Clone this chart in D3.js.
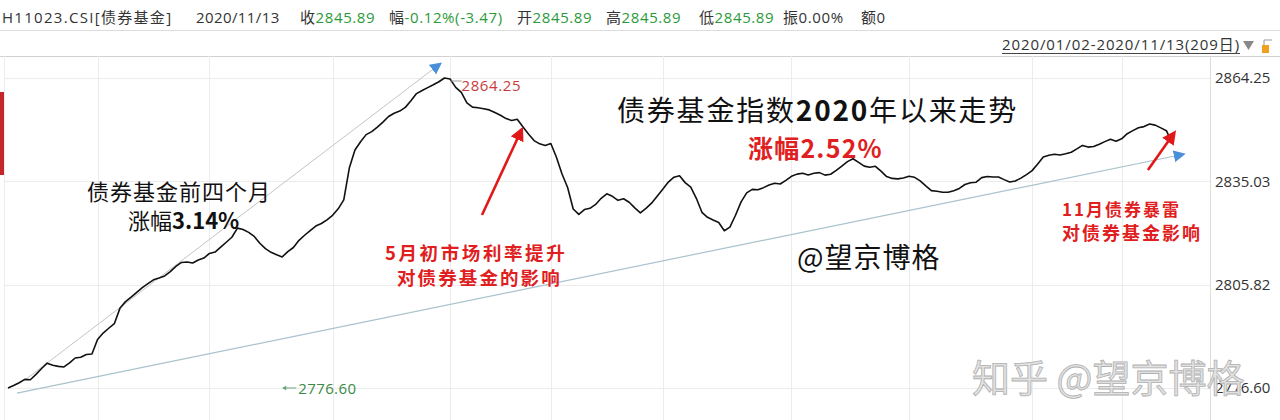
<!DOCTYPE html>
<html><head><meta charset="utf-8">
<script src="https://cdn.jsdelivr.net/npm/d3@7"></script>
<style>
html,body{margin:0;padding:0;background:#fff;}
svg{display:block;}
</style></head><body>
<svg id="chart" width="1280" height="420"></svg>
<script>
// ---- data (trading days 2020/01/02 - 2020/11/13, 209 days) ----
const values = [
2776.60,2777.29,2778.08,2779.04,2778.93,2780.46,2782.12,2783.62,2783.03,2782.72,
2782.55,2783.68,2785.09,2785.29,2786.08,2786.20,2790.33,2792.14,2793.49,2794.79,
2799.12,2801.02,2802.29,2803.65,2804.98,2806.11,2807.18,2807.69,2808.28,2809.50,
2810.97,2812.10,2812.21,2811.93,2812.81,2813.35,2814.65,2815.04,2816.43,2817.81,
2819.23,2821.80,2821.41,2820.61,2819.45,2817.53,2816.00,2814.96,2814.25,2813.66,
2815.18,2816.32,2818.35,2819.79,2821.09,2822.40,2823.10,2824.15,2825.42,2827.26,
2829.80,2838.85,2843.89,2846.21,2848.24,2849.09,2850.34,2851.78,2853.36,2854.30,
2854.89,2855.94,2857.80,2859.84,2860.71,2861.54,2862.33,2863.18,2864.25,2863.97,
2861.59,2860.18,2857.24,2856.02,2855.82,2855.57,2855.23,2854.49,2853.73,2852.77,
2852.23,2852.57,2850.48,2848.41,2846.55,2845.64,2845.16,2845.73,2841.85,2837.10,
2833.28,2827.20,2825.70,2827.06,2827.40,2828.50,2830.23,2831.50,2830.79,2829.66,
2830.12,2829.13,2827.54,2826.13,2827.40,2828.87,2830.85,2832.83,2834.81,2836.20,
2836.59,2834.67,2833.37,2830.23,2826.27,2824.86,2824.09,2823.41,2821.07,2822.08,
2825.45,2829.24,2831.78,2832.77,2832.66,2833.25,2833.99,2834.50,2834.27,2835.29,
2836.45,2837.07,2837.33,2836.85,2837.30,2837.50,2836.79,2837.04,2838.12,2839.36,
2840.61,2841.43,2840.38,2839.34,2839.00,2839.28,2837.92,2836.37,2835.86,2835.74,
2835.97,2836.45,2836.17,2835.18,2833.76,2832.41,2832.24,2831.93,2831.95,2832.35,
2833.03,2834.13,2834.64,2834.78,2836.08,2836.42,2836.25,2836.25,2835.52,2834.84,
2835.15,2835.94,2836.93,2838.06,2839.96,2841.94,2842.42,2842.70,2842.47,2842.81,
2843.27,2844.20,2845.19,2844.71,2844.88,2845.53,2846.26,2846.94,2846.35,2847.06,
2848.50,2849.37,2850.17,2850.51,2851.24,2850.93,2850.14,2849.36,2845.89
];
const yTicks = [2864.25, 2835.03, 2805.82, 2776.60];
const monthStartIdx = [16, 36, 58, 79, 97, 117, 140, 161, 183, 199];
const minLabelIdx = 49;

const headerCode = "H11023.CSI[债券基金]";
const headerDate = "2020/11/13";
const headerLabels = ["收", "幅", "开", "高", "低", "振", "额"];
const headerValues = ["2845.89", "-0.12%(-3.47)", "2845.89", "2845.89", "2845.89", "0.00%", "0"];
const dateRange = "2020/01/02-2020/11/13(209日)";

// trend / annotation lines in data space: [index, value]
const trendUp = [[3.0, 2778.85], [76.7, 2867.64]];
const trendAll = [[1.6, 2775.17], [209.4, 2842.47]];
const arrowMay = [[84.7, 2825.5], [91.5, 2848.7]];
const arrowNov = [[203.7, 2838.23], [208.0, 2847.85]];

// ---- drawing ----
const W = 1280, H = 420;
const plotLeft = 4, plotRight = 1210, plotTop = 56;
const FONT = "'Open Sans','Noto Sans CJK SC',sans-serif";
const CJK = "'Noto Sans CJK SC',sans-serif";
const svg = d3.select("#chart");

const x = d3.scaleLinear().domain([0, values.length - 1]).range([8, 1172]);
const y = d3.scaleLinear().domain([d3.min(values), d3.max(values)]).range([388, 78]);

svg.append("rect").attr("width", W).attr("height", H).attr("fill", "#fff");

const defs = svg.append("defs");
function marker(id, color, size) {
  defs.append("marker").attr("id", id).attr("viewBox", "0 0 10 10")
    .attr("refX", 5).attr("refY", 5).attr("markerUnits", "userSpaceOnUse")
    .attr("markerWidth", size).attr("markerHeight", size).attr("orient", "auto")
    .append("path").attr("d", "M0,0 L10,5 L0,10 Z").attr("fill", color);
}
marker("blueHead", "#4a90d9", 12);
marker("redHead", "#e01818", 14);

// header separators
svg.append("line").attr("x1", 0).attr("x2", W).attr("y1", 30.5).attr("y2", 30.5).attr("stroke", "#dcdcdc");
svg.append("line").attr("x1", 0).attr("x2", W).attr("y1", plotTop + 0.5).attr("y2", plotTop + 0.5).attr("stroke", "#d0d0d0");

// gridlines
svg.append("g").selectAll("line").data(yTicks).join("line")
  .attr("x1", plotLeft).attr("x2", plotRight)
  .attr("y1", d => Math.round(y(d)) + 0.5).attr("y2", d => Math.round(y(d)) + 0.5)
  .attr("stroke", "#ececec");
svg.append("g").selectAll("line").data(monthStartIdx).join("line")
  .attr("x1", d => Math.round(x(d)) + 0.5).attr("x2", d => Math.round(x(d)) + 0.5)
  .attr("y1", plotTop).attr("y2", H).attr("stroke", "#ececec");
svg.append("line").attr("x1", plotLeft + 0.5).attr("x2", plotLeft + 0.5).attr("y1", plotTop).attr("y2", H).attr("stroke", "#ececec");
svg.append("line").attr("x1", plotRight + 0.5).attr("x2", plotRight + 0.5).attr("y1", plotTop).attr("y2", H).attr("stroke", "#dcdcdc");

// red marker bar at left
svg.append("rect").attr("x", 0).attr("y", 92).attr("width", 4).attr("height", 83).attr("fill", "#c4262c");

// right axis
const axis = d3.axisRight(y).tickValues(yTicks).tickSize(0).tickPadding(5).tickFormat(d3.format(".2f"));
const ax = svg.append("g").attr("transform", `translate(${plotRight},0)`).call(axis);
ax.select(".domain").remove();
ax.selectAll("text").attr("font-family", FONT).attr("font-size", 15).attr("fill", "#333");

// trend lines
const lineGen = d3.line().x(d => x(d[0])).y(d => y(d[1]));
svg.append("path").datum(trendUp).attr("d", lineGen).attr("fill", "none")
  .attr("stroke", "#c4c4c4").attr("stroke-width", 1).attr("marker-end", "url(#blueHead)");
svg.append("path").datum(trendAll).attr("d", lineGen).attr("fill", "none")
  .attr("stroke", "#a9c2cc").attr("stroke-width", 1.2).attr("marker-end", "url(#blueHead)");

// main line
const mainLine = d3.line().x((d, i) => x(i)).y(d => y(d));
svg.append("path").datum(values).attr("d", mainLine).attr("fill", "none")
  .attr("stroke", "#111").attr("stroke-width", 1.6).attr("stroke-linejoin", "round");

// max label
const maxV = d3.max(values), maxI = values.indexOf(maxV);
svg.append("line").attr("x1", x(maxI) + 6).attr("x2", x(maxI) + 17).attr("y1", y(maxV) + 3).attr("y2", y(maxV) + 3)
  .attr("stroke", "#999").attr("stroke-width", 1);
svg.append("text").attr("x", x(maxI) + 17).attr("y", y(maxV) + 13)
  .attr("font-family", FONT).attr("font-size", 15).attr("letter-spacing", 0.6).attr("fill", "#c83c3c").text(d3.format(".2f")(maxV));

// min label
const minV = d3.min(values);
svg.append("line").attr("x1", x(minLabelIdx) + 1).attr("x2", x(minLabelIdx) + 14)
  .attr("y1", y(minV)).attr("y2", y(minV)).attr("stroke", "#6aa878").attr("stroke-width", 1);
svg.append("path").attr("d", `M${x(minLabelIdx)},${y(minV)} l4,-2.5 l0,5 Z`).attr("fill", "#6aa878");
svg.append("text").attr("x", x(minLabelIdx) + 16).attr("y", y(minV) + 6)
  .attr("font-family", FONT).attr("font-size", 15).attr("letter-spacing", 0.4).attr("fill", "#3a8a46").text(d3.format(".2f")(minV));

// red arrows
svg.append("path").datum(arrowMay).attr("d", lineGen).attr("fill", "none")
  .attr("stroke", "#e01818").attr("stroke-width", 2.6).attr("marker-end", "url(#redHead)");
svg.append("path").datum(arrowNov).attr("d", lineGen).attr("fill", "none")
  .attr("stroke", "#e01818").attr("stroke-width", 2.6).attr("marker-end", "url(#redHead)");

// header
const hdr = svg.append("g").attr("font-family", FONT).attr("font-size", 15);
hdr.append("text").attr("x", 2).attr("y", 23).attr("fill", "#333").attr("letter-spacing", 1.3).text(headerCode);
hdr.append("text").attr("x", 196).attr("y", 23).attr("fill", "#333").attr("letter-spacing", 0.4).text(headerDate);
const labelX = [300, 389, 517, 606, 699, 783, 861];
const valueColor = ["#2a9a3a", "#2a9a3a", "#2a9a3a", "#2a9a3a", "#2a9a3a", "#333", "#333"];
headerLabels.forEach((lab, i) => {
  const t = hdr.append("text").attr("x", labelX[i]).attr("y", 23).attr("letter-spacing", 0.6);
  t.append("tspan").attr("fill", "#333").text(lab);
  t.append("tspan").attr("fill", valueColor[i]).text(headerValues[i]);
});

// date range (underlined)
const dr = svg.append("text").attr("x", 1240).attr("y", 50).attr("text-anchor", "end")
  .attr("font-family", FONT).attr("font-size", 15).attr("letter-spacing", 0.9).attr("fill", "#333").text(dateRange);
const drLen = dr.node().getComputedTextLength();
svg.append("line").attr("x1", 1240 - drLen).attr("x2", 1240).attr("y1", 53.5).attr("y2", 53.5).attr("stroke", "#444");
svg.append("path").attr("d", "M1243,41 L1254,41 L1248.5,50 Z").attr("fill", "#888");
svg.append("rect").attr("x", 1262).attr("y", 45).attr("width", 7).attr("height", 8).attr("fill", "#f0a020");
svg.append("path").attr("d", "M1264,45 L1264,40 L1272,40").attr("fill", "none").attr("stroke", "#999");

// annotations
const ann = svg.append("g").attr("font-family", CJK);
const title = ann.append("text").attr("x", 617).attr("y", 121).attr("font-size", 28).attr("letter-spacing", 1.8).attr("fill", "#111");
title.append("tspan").text("债券基金指数");
title.append("tspan").attr("font-weight", 700).text("2020");
title.append("tspan").text("年以来走势");
ann.append("text").attr("x", 748).attr("y", 158).attr("font-size", 25).attr("font-weight", 700).attr("letter-spacing", 1.2)
  .attr("fill", "#e02020").text("涨幅2.52%");

ann.append("text").attr("x", 87).attr("y", 200).attr("font-size", 22).attr("letter-spacing", 1).attr("fill", "#111").text("债券基金前四个月");
const t2 = ann.append("text").attr("x", 128).attr("y", 229).attr("font-size", 22).attr("fill", "#111");
t2.append("tspan").text("涨幅");
t2.append("tspan").attr("font-weight", 700).text("3.14%");

ann.append("text").attr("x", 385).attr("y", 260).attr("font-size", 18.5).attr("font-weight", 700).attr("letter-spacing", 2.6)
  .attr("fill", "#e02020").text("5月初市场利率提升");
ann.append("text").attr("x", 397).attr("y", 285).attr("font-size", 18.5).attr("font-weight", 700).attr("letter-spacing", 2.1)
  .attr("fill", "#e02020").text("对债券基金的影响");

ann.append("text").attr("x", 797).attr("y", 268).attr("font-size", 28).attr("letter-spacing", 1).attr("fill", "#111").text("@望京博格");

ann.append("text").attr("x", 1062).attr("y", 216).attr("font-size", 17).attr("font-weight", 700).attr("letter-spacing", 2)
  .attr("fill", "#e02020").text("11月债券暴雷");
ann.append("text").attr("x", 1062).attr("y", 240).attr("font-size", 18).attr("font-weight", 700).attr("letter-spacing", 2)
  .attr("fill", "#e02020").text("对债券基金影响");

// watermark
ann.append("text").attr("x", 972).attr("y", 392).attr("font-size", 38)
  .attr("fill", "#e2e2e2").attr("stroke", "#b0b0b0").attr("stroke-width", 0.8)
  .text("知乎 @望京博格");
</script>
</body></html>
